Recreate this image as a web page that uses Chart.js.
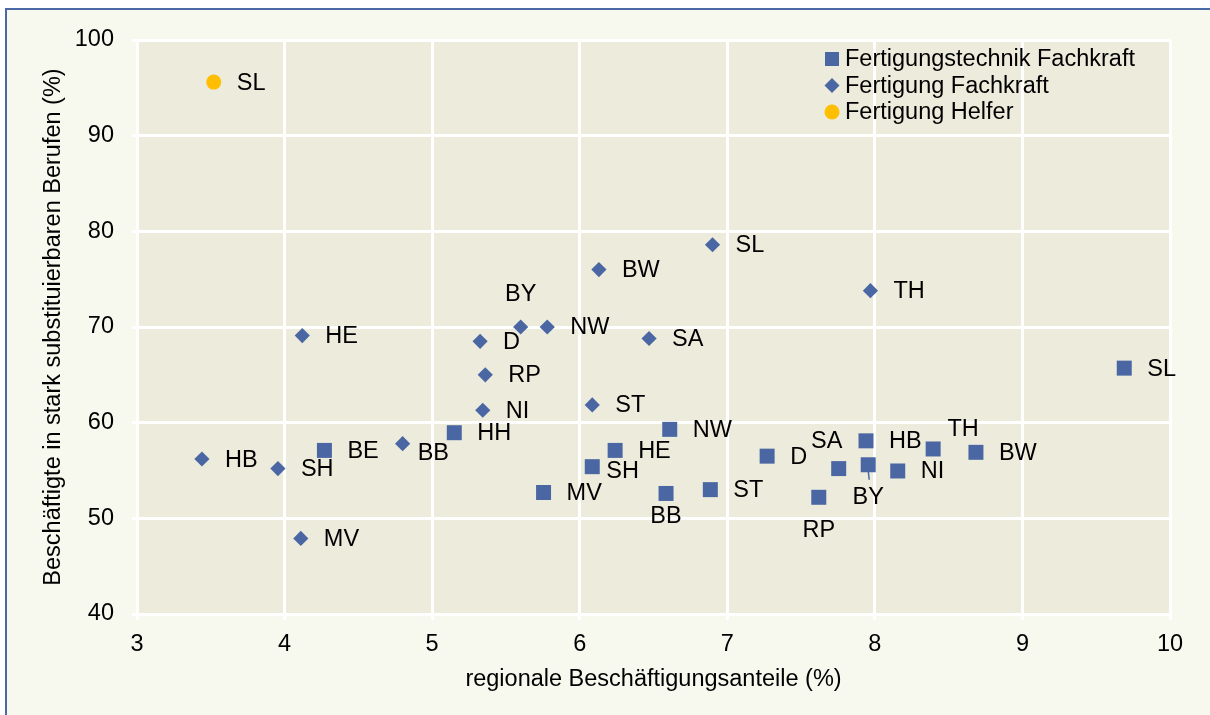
<!DOCTYPE html>
<html>
<head>
<meta charset="utf-8">
<script src="https://cdn.jsdelivr.net/npm/chart.js@4.4.1/dist/chart.umd.min.js"></script>
<style>
  html, body { margin: 0; padding: 0; background: #ffffff; }
  #frame {
    position: absolute; left: 5px; top: 8px; width: 1205px; height: 707px;
    background: #f8f9ee; border-left: 2px solid #4a69a6; border-top: 2px solid #4a69a6;
    box-sizing: border-box;
  }
  #wrap { position: absolute; left: 0; top: 0; width: 1210px; height: 715px; }
</style>
</head>
<body>
<div id="frame"></div>
<div id="wrap"><canvas id="scatter" width="1210" height="715"></canvas></div>
<script>
// ==================================================================================== //
// data

const techNames = ['BE', 'HH', 'MV', 'SH', 'HE', 'NW', 'BB', 'ST', 'D', 'SA', 'HB', 'BY', 'NI', 'TH', 'BW', 'SL', 'RP'];
const techX = [4.27, 5.15, 5.755, 6.085, 6.24, 6.61, 6.585, 6.885, 7.27, 7.755, 7.94, 7.955, 8.155, 8.395, 8.685, 9.69, 7.62];
const techY = [57.1, 58.95, 52.7, 55.4, 57.1, 59.3, 52.6, 53.0, 56.5, 55.2, 58.1, 55.6, 54.95, 57.25, 56.9, 65.7, 52.2];

const fachNames = ['HB', 'SH', 'MV', 'HE', 'BB', 'NI', 'RP', 'D', 'BY', 'NW', 'BW', 'SL', 'SA', 'ST', 'TH'];
const fachX = [3.44, 3.955, 4.11, 4.12, 4.80, 5.343, 5.36, 5.325, 5.60, 5.78, 6.13, 6.90, 6.47, 6.085, 7.97];
const fachY = [56.2, 55.2, 47.9, 69.1, 57.8, 61.3, 65.0, 68.5, 70.0, 70.0, 76.0, 78.6, 68.8, 61.85, 73.8];

const helferNames = ['SL'];
const helferX = [3.52];
const helferY = [95.6];

const seriesLabels = ['Fertigungstechnik Fachkraft', 'Fertigung Fachkraft', 'Fertigung Helfer'];
const xTitle = 'regionale Beschäftigungsanteile (%)';
const yTitle = 'Beschäftigte in stark substituierbaren Berufen (%)';

// ==================================================================================== //

const FONT = "'Liberation Sans', Arial, sans-serif";
const FONT_SIZE = 23.5;
const BLUE = '#4a67a3';
const GOLD = '#ffbe00';

// label placement, default is to the right of the marker
// [dx, dy, align]
const labelPlace = {
  '0:SH': [14, 5, 'left'],
  '0:BB': [0, 23, 'center'],
  '0:SA': [-12, -27, 'center'],
  '0:BY': [0, 33, 'center'],
  '0:TH': [30, -19, 'center'],
  '0:RP': [0, 33, 'center'],
  '1:BY': [0, -32, 'center'],
  '1:BB': [15, 10, 'left'],
};

function toPoints(xs, ys) {
  return xs.map((x, i) => ({ x, y: ys[i] }));
}

const datasets = [
  {
    label: seriesLabels[0],
    names: techNames,
    data: toPoints(techX, techY),
    pointStyle: 'rect',
    pointRadius: 10.6,
    backgroundColor: BLUE,
    borderColor: BLUE,
    borderWidth: 0,
  },
  {
    label: seriesLabels[1],
    names: fachNames,
    data: toPoints(fachX, fachY),
    pointStyle: 'rectRot',
    pointRadius: 7.6,
    backgroundColor: BLUE,
    borderColor: BLUE,
    borderWidth: 0,
  },
  {
    label: seriesLabels[2],
    names: helferNames,
    data: toPoints(helferX, helferY),
    pointStyle: 'circle',
    pointRadius: 7.5,
    backgroundColor: GOLD,
    borderColor: GOLD,
    borderWidth: 0,
  },
];

// beige plot background
const plotBg = {
  id: 'plotBg',
  beforeDraw(chart) {
    const { ctx, chartArea: a } = chart;
    ctx.save();
    ctx.fillStyle = '#edebdc';
    ctx.fillRect(a.left, a.top, a.right - a.left, a.bottom - a.top);
    ctx.restore();
  }
};

// region names next to each marker
const pointNames = {
  id: 'pointNames',
  afterDatasetsDraw(chart) {
    const ctx = chart.ctx;
    ctx.save();
    ctx.font = `${FONT_SIZE}px ${FONT}`;
    ctx.fillStyle = '#000000';
    ctx.textBaseline = 'middle';
    chart.data.datasets.forEach((ds, i) => {
      const meta = chart.getDatasetMeta(i);
      meta.data.forEach((el, j) => {
        const name = ds.names[j];
        const place = labelPlace[i + ':' + name] || [23, 1, 'left'];
        ctx.textAlign = place[2];
        ctx.fillText(name, el.x + place[0], el.y + place[1]);
        // leader line for the square BY
        if (i === 0 && name === 'BY') {
          ctx.strokeStyle = BLUE;
          ctx.lineWidth = 1.5;
          ctx.beginPath();
          ctx.moveTo(el.x, el.y + 6);
          ctx.lineTo(el.x + 1, el.y + 15);
          ctx.stroke();
        }
      });
    });
    ctx.restore();
  }
};

// legend drawn inside the plot, top right
const insideLegend = {
  id: 'insideLegend',
  afterDraw(chart) {
    const ctx = chart.ctx;
    const x0 = 832, y0 = 59, step = 26.5;
    ctx.save();
    ctx.font = `${FONT_SIZE}px ${FONT}`;
    ctx.textBaseline = 'middle';
    ctx.textAlign = 'left';
    chart.data.datasets.forEach((ds, i) => {
      const y = y0 + i * step;
      ctx.fillStyle = ds.backgroundColor;
      ctx.beginPath();
      if (ds.pointStyle === 'rect') {
        ctx.rect(x0 - 7, y - 7, 14, 14);
      } else if (ds.pointStyle === 'rectRot') {
        ctx.moveTo(x0 - 7.5, y);
        ctx.lineTo(x0, y - 7.5);
        ctx.lineTo(x0 + 7.5, y);
        ctx.lineTo(x0, y + 7.5);
        ctx.closePath();
      } else {
        ctx.arc(x0, y, 7.5, 0, Math.PI * 2);
      }
      ctx.fill();
      ctx.fillStyle = '#000000';
      ctx.fillText(ds.label, x0 + 13, y + 1);
    });
    ctx.restore();
  }
};

Chart.defaults.font.family = FONT;
Chart.defaults.font.size = FONT_SIZE;
Chart.defaults.color = '#000000';

const ctx = document.getElementById('scatter').getContext('2d');
new Chart(ctx, {
  type: 'scatter',
  data: { datasets },
  options: {
    responsive: false,
    animation: false,
    devicePixelRatio: 1,
    layout: { padding: { top: 40, right: 40, left: 0, bottom: 0 } },
    scales: {
      x: {
        type: 'linear',
        min: 3,
        max: 10,
        ticks: { stepSize: 1, padding: 10, color: '#000000' },
        grid: { color: '#ffffff', lineWidth: 3, drawTicks: true, tickLength: 6, tickColor: '#ffffff' },
        border: { display: false },
        title: { display: true, text: xTitle, color: '#000000', padding: { top: 0, bottom: 21 } },
        afterFit(scale) { scale.height = 101; },
      },
      y: {
        type: 'linear',
        min: 40,
        max: 100,
        ticks: { stepSize: 10, padding: 18, color: '#000000' },
        grid: { color: '#ffffff', lineWidth: 3, drawTicks: true, tickLength: 5, tickColor: '#ffffff' },
        border: { display: false },
        title: { display: true, text: yTitle, color: '#000000', padding: { top: 39, bottom: 0 } },
        afterFit(scale) { scale.width = 137; },
      }
    },
    plugins: {
      legend: { display: false },
      tooltip: { enabled: false },
    }
  },
  plugins: [plotBg, pointNames, insideLegend]
});
</script>
</body>
</html>
